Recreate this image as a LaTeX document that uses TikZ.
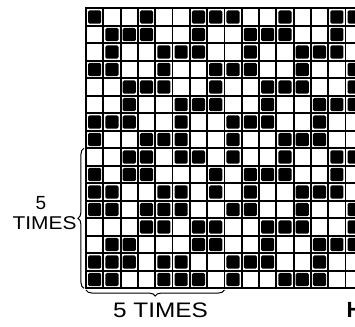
\documentclass[tikz,border=0pt]{standalone}
\usepackage{fontspec}
\setmainfont{Liberation Sans}
\usepackage{graphicx}
\usetikzlibrary{decorations.pathreplacing}
\tikzstyle{gridline} = [
    line width=1.8pt,
    draw=black
]
\tikzstyle{border} = [
    line width=2.2pt,
    draw=black
]
\tikzstyle{filled} = [
    fill=black,
    rounded corners=1.5pt
]
\tikzstyle{lettering} = [
    inner sep=0pt,
    font=\fontsize{19}{19}\selectfont
]
\tikzstyle{bracket} = [
    line width=1pt,
    decorate,
    decoration={brace, amplitude=6pt}
]

\begin{document}
\begin{tikzpicture}[x=1pt, y=-1pt]

\useasboundingbox (0,0) rectangle (355,326);
\clip (0,0) rectangle (355,326);

\begin{scope}[shift={(86,8.3)}, x=17.3pt, y=-17.5pt]

% draft, one line per row
\foreach \row [count=\r from 0] in {
    {1,0,0,1,0,0,1,1,1,0,0,1,0,0,1,1},
    {0,1,1,1,0,0,1,0,0,1,1,1,0,0,1,0},
    {0,1,0,0,1,1,1,0,0,1,0,0,1,1,1,0},
    {1,1,0,0,1,0,0,1,1,1,0,0,1,0,0,1},
    {0,0,1,1,1,0,0,1,0,0,1,1,1,0,0,1},
    {0,0,1,0,0,1,1,1,0,0,1,0,0,1,1,1},
    {1,1,1,0,0,1,0,0,1,1,1,0,0,1,0,0},
    {1,0,0,1,1,1,0,0,1,0,0,1,1,1,0,0},
    {0,0,1,1,0,1,1,0,1,0,0,1,0,0,1,1},
    {1,0,1,1,0,0,0,1,0,1,1,1,0,0,1,0},
    {1,1,0,0,1,1,0,1,0,1,0,0,1,1,1,0},
    {1,1,0,1,1,1,0,0,1,1,0,0,1,0,0,1},
    {0,0,0,1,1,0,1,1,0,0,1,1,1,0,0,1},
    {0,1,1,0,0,0,1,1,0,0,1,0,0,1,1,1},
    {1,1,1,0,1,1,0,0,1,1,1,0,0,1,0,0},
    {1,1,0,0,1,1,1,0,1,0,0,1,1,1,0,0}}{
    \foreach \c [count=\k from 0] in \row {
        \ifnum\c=1
            \fill[filled] (\k+0.12,\r+0.12) rectangle (\k+0.88,\r+0.88);
        \fi
    }
}

\foreach \i in {1,...,15}{
    \draw[gridline] (\i,0) -- (\i,16);
    \draw[gridline] (0,\i) -- (16,\i);
}
\draw[border] (0,0) rectangle (16,16);

\coordinate (rowsbot) at (-0.12,16);
\coordinate (rowstop) at (-0.12,8);
\coordinate (colsright) at (8,16.1);
\coordinate (colsleft) at (0,16.1);

\draw[bracket] (rowsbot) -- (rowstop);
\draw[bracket] (colsright) -- (colsleft);

\end{scope}

\node (five) [lettering] at (41,203) {5};
\node (times) [lettering, font=\fontsize{18.5}{18.5}\selectfont] at (44.5,223)
{\scalebox{1.13}[1]{TIMES}};

\node (repeat) [lettering, font=\fontsize{21}{21}\selectfont] at (160.5,310.5)
{\scalebox{1.16}[1]{5 TIMES}};

\node (plate) [lettering, anchor=west, font=\fontsize{22}{22}\selectfont\bfseries]
at (346.5,310) {H};

\end{tikzpicture}
\end{document}
